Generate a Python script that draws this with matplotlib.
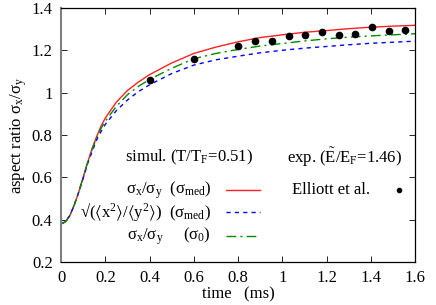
import matplotlib
matplotlib.use("Agg")
import matplotlib.pyplot as plt

plt.rcParams['font.family'] = ['Liberation Serif', 'DejaVu Serif']
plt.rcParams['mathtext.fontset'] = 'custom'
plt.rcParams['mathtext.rm'] = 'Liberation Serif'
plt.rcParams['mathtext.it'] = 'Liberation Serif:italic'
plt.rcParams['mathtext.default'] = 'rm'
plt.rcParams['mathtext.fallback'] = 'stix'

# simulation curves (time in ms)
t = [0, 0.02, 0.04, 0.06, 0.08, 0.1, 0.12, 0.14, 0.16, 0.18, 0.2, 0.25, 0.3,
     0.35, 0.4, 0.5, 0.6, 0.7, 0.8, 0.9, 1.0, 1.1, 1.2, 1.3, 1.4, 1.5, 1.6]
sig_med = [0.38, 0.39, 0.42, 0.47, 0.53, 0.60, 0.67, 0.735, 0.79, 0.84, 0.88,
           0.955, 1.01, 1.05, 1.085, 1.14, 1.185, 1.215, 1.24, 1.26, 1.273,
           1.285, 1.293, 1.302, 1.309, 1.314, 1.318]
rms_med = [0.38, 0.39, 0.42, 0.47, 0.53, 0.595, 0.665, 0.72, 0.775, 0.815, 0.85,
           0.915, 0.965, 1.005, 1.037, 1.09, 1.13, 1.155, 1.172, 1.188, 1.2,
           1.21, 1.218, 1.226, 1.233, 1.238, 1.243]
sig_0 = [0.38, 0.39, 0.42, 0.47, 0.53, 0.60, 0.67, 0.73, 0.785, 0.83, 0.865,
         0.935, 0.99, 1.03, 1.062, 1.115, 1.16, 1.185, 1.204, 1.22, 1.232,
         1.244, 1.254, 1.262, 1.268, 1.273, 1.278]

# experiment (Elliott et al.)
t_exp = [0.40, 0.60, 0.80, 0.876, 0.952, 1.029, 1.103, 1.179, 1.254, 1.330,
         1.405, 1.481, 1.556]
r_exp = [1.06, 1.159, 1.22, 1.242, 1.245, 1.268, 1.274, 1.287, 1.271, 1.279,
         1.309, 1.293, 1.298]

xticks = [0, 0.2, 0.4, 0.6, 0.8, 1, 1.2, 1.4, 1.6]
xticklabels = ['0', '0.2', '0.4', '0.6', '0.8', '1', '1.2', '1.4', '1.6']
yticks = [0.2, 0.4, 0.6, 0.8, 1, 1.2, 1.4]
yticklabels = ['0.2', '0.4', '0.6', '0.8', '1', '1.2', '1.4']

fig = plt.figure(figsize=(4.36, 3.05), dpi=100)
ax = fig.add_axes([0.140, 0.141, 0.812, 0.833])

ax.plot(t, sig_med, color='#ff2020', lw=1.0)
ax.plot(t, rms_med, color='#0000ff', lw=1.0, ls=(0, (3, 3)))
ax.plot(t, sig_0, color='#008a00', lw=1.0, ls=(0, (7, 3, 1.5, 3)))
ax.plot(t_exp, r_exp, 'o', color='black', ms=4.5)

ax.set_xlim(0, 1.6)
ax.set_ylim(0.2, 1.4)
ax.set_xticks(xticks)
ax.set_xticklabels(xticklabels)
ax.set_yticks(yticks)
ax.set_yticklabels(yticklabels)
ax.tick_params(direction='in', top=True, right=True, labelsize=12,
               length=4, width=0.6, pad=6)
ax.tick_params(axis='y', pad=6)
for s in ax.spines.values():
    s.set_linewidth(0.9)
ax.spines['left'].set_color('#808080')
ax.spines['left'].set_linewidth(1.5)

ax.set_xlabel('time   (ms)', fontsize=12, labelpad=0)
ax.set_ylabel(r'aspect ratio $σ_x/σ_y$', fontsize=12, labelpad=2)

# hand-made legend
fs = 12
tr = ax.transAxes
ax.text(0.542, 0.413, r'simul. (T/T$_F$=0.51)', transform=tr, fontsize=fs,
        ha='right', va='center')
ax.text(0.963, 0.413, r'exp. ($\tilde{\mathrm{E}}$/E$_F$=1.46)', transform=tr,
        fontsize=fs, ha='right', va='center')
rows = [0.283, 0.195, 0.102]
labels = [r'$σ_x/σ_y$  $(σ_{med})$',
          r'√($\langle$x$^2\rangle$/$\langle$y$^2\rangle$)  $(σ_{med})$',
          r'$σ_x/σ_y$     $(σ_0)$']
styles = [dict(color='#ff2020', ls='-'),
          dict(color='#0000ff', ls=(0, (3, 3))),
          dict(color='#008a00', ls=(0, (7, 3, 1.5, 3)))]
for yy, lab, st in zip(rows, labels, styles):
    ax.text(0.424, yy, lab, transform=tr, fontsize=fs, ha='right', va='center')
    ax.plot([0.466, 0.562], [yy, yy], transform=tr, lw=1.0, **st)
ax.text(0.653, 0.283, 'Elliott et al.', transform=tr, fontsize=fs,
        ha='left', va='center')
ax.plot([0.955], [0.283], 'o', color='black', ms=3, transform=tr)

fig.savefig('out.png', dpi=100)
